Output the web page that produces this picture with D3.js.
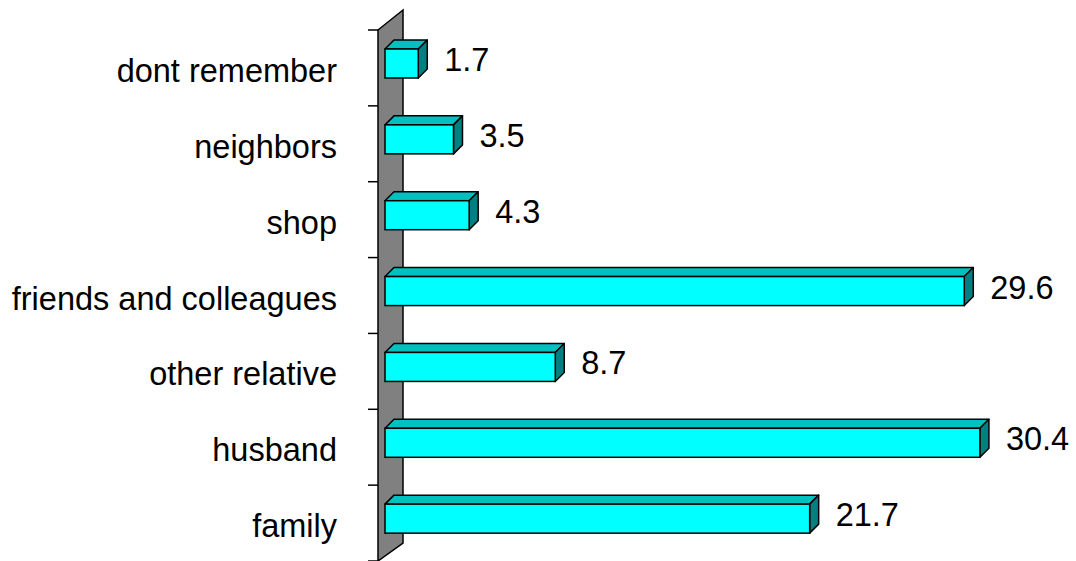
<!DOCTYPE html>
<html><head><meta charset="utf-8">
<script src="https://cdn.jsdelivr.net/npm/d3@7"></script>
<style>html,body{margin:0;padding:0;background:#fff;}svg{display:block;}</style>
</head><body>
<svg id="chart" width="1076" height="561"></svg>
<script>
const categories = ["dont remember","neighbors","shop","friends and colleagues","other relative","husband","family"];
const values = [1.7, 3.5, 4.3, 29.6, 8.7, 30.4, 21.7];
const valueLabels = ["1.7","3.5","4.3","29.6","8.7","30.4","21.7"];

const svg = d3.select("#chart");
const axisX = 378, wallDX = 25, wallDY = 20;
const barX0 = 385, depth = 9;
const font = "'Liberation Sans', Arial, sans-serif";
const fs = 32.5;

const y = d3.scaleBand().domain(categories).range([30, 561]).paddingInner(0).paddingOuter(0);
const x = d3.scaleLinear().domain([0, 35]).range([barX0, barX0 + 35 * 19.57]);

// wall
const yTop = y.range()[0], yBot = y.range()[1];
svg.append("polygon")
  .attr("points", [[axisX, yTop],[axisX + wallDX, yTop - wallDY],[axisX + wallDX, yBot - wallDY + 2],[axisX, yBot]].map(p => p.join(",")).join(" "))
  .attr("fill", "#808080").attr("stroke", "#000").attr("stroke-width", 1.5);

// ticks
const bounds = categories.map(c => y(c)).concat([yBot]);
svg.selectAll("line.tick").data(bounds).enter().append("line")
  .attr("x1", axisX - 10).attr("x2", axisX).attr("y1", d => d).attr("y2", d => d)
  .attr("stroke", "#000").attr("stroke-width", 1.5);

// category labels
svg.selectAll("text.cat").data(categories).enter().append("text")
  .attr("x", 337).attr("y", d => y(d) + 52)
  .attr("text-anchor", "end").attr("font-family", font).attr("font-size", fs)
  .attr("fill", "#000").text(d => d);

// bars
const g = svg.selectAll("g.bar").data(categories.map((c, i) => ({c, v: values[i], l: valueLabels[i]}))).enter().append("g");
g.each(function(d) {
  const sel = d3.select(this);
  const ft = y(d.c) + 19, fb = y(d.c) + 48;
  const fl = x(0), fr = x(d.v);
  const pts = a => a.map(p => p.join(",")).join(" ");
  sel.append("polygon").attr("points", pts([[fl, ft],[fl + depth, ft - depth],[fr + depth, ft - depth],[fr, ft]]))
    .attr("fill", "#00C0C0").attr("stroke", "#000").attr("stroke-width", 1.5).attr("stroke-linejoin", "round");
  sel.append("polygon").attr("points", pts([[fr, ft],[fr + depth, ft - depth],[fr + depth, fb - depth],[fr, fb]]))
    .attr("fill", "#008080").attr("stroke", "#000").attr("stroke-width", 1.5).attr("stroke-linejoin", "round");
  sel.append("rect").attr("x", fl).attr("y", ft).attr("width", fr - fl).attr("height", fb - ft)
    .attr("fill", "#00FFFF").attr("stroke", "#000").attr("stroke-width", 1.5);
  sel.append("text").attr("x", fr + 26).attr("y", y(d.c) + 41)
    .attr("font-family", font).attr("font-size", fs).attr("fill", "#000").text(d.l);
});
</script>
</body></html>
